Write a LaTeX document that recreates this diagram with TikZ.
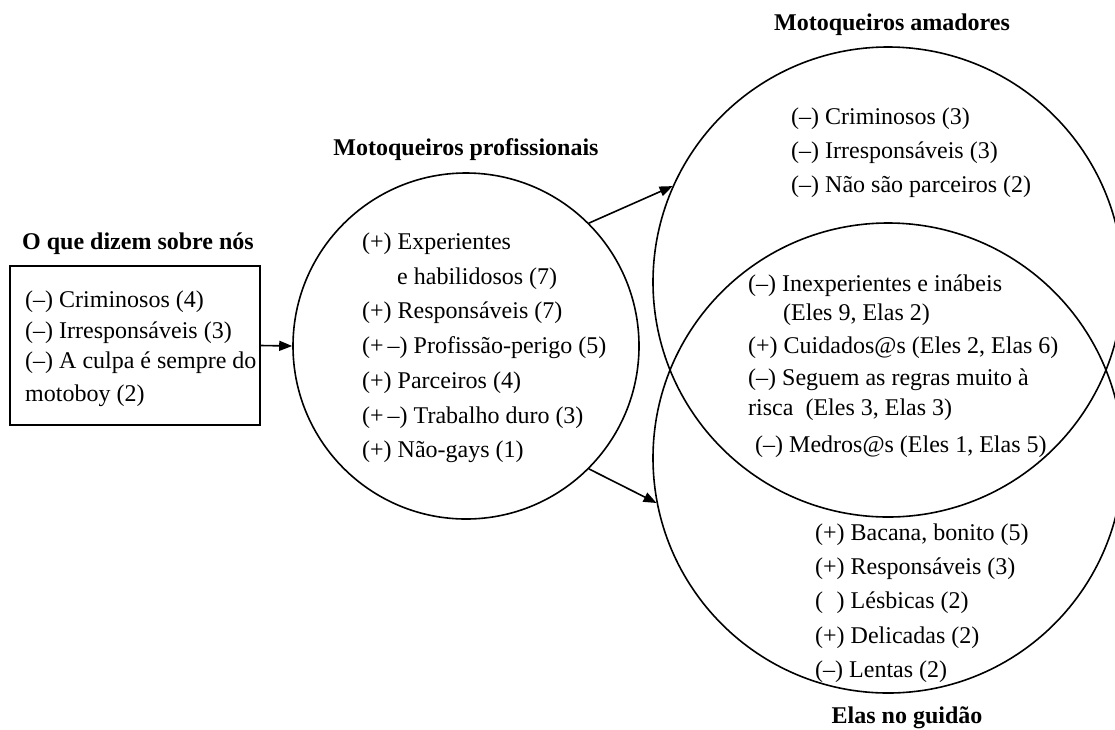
\documentclass[tikz,border=0pt]{standalone}
\usepackage{fontspec}
\setmainfont{Liberation Serif}
\usetikzlibrary{arrows.meta}
\tikzset{
  txt/.style={anchor=base west, inner sep=0pt, font=\fontsize{24}{29}\selectfont},
  ttl/.style={anchor=base, inner sep=0pt, font=\fontsize{24}{29}\selectfont\bfseries},
  ring/.style={draw, circle, line width=1.6pt, inner sep=0pt},
  arr/.style={line width=1.6pt, -{Triangle[length=13pt,width=10pt]}},
}
\begin{document}
\begin{tikzpicture}[x=1pt,y=-1pt]
\useasboundingbox (0,0) rectangle (1115,729);
\clip (0,0) rectangle (1115,729);
% shapes
\node[draw, line width=1.6pt, minimum width=250pt, minimum height=159pt, inner sep=0pt] (box) at (135,345.5) {};
\node[ring, minimum size=346pt] (mid) at (466,346) {};
\node[ring, minimum size=470pt] (amad) at (888,282) {};
\node[ring, minimum size=470pt] (elas) at (888,458) {};
% titles
\node[ttl] (t1) at (138,249) {O que dizem sobre nós};
\node[ttl] (t2) at (466,155) {Motoqueiros profissionais};
\node[ttl] (t3) at (892,30) {Motoqueiros amadores};
\node[ttl] (t4) at (907,723) {Elas no guidão};
% box text
\node[txt] (b1) at (25,307) {(–) Criminosos (4)};
\node[txt] (b2) at (25,338) {(–) Irresponsáveis (3)};
\node[txt] (b3) at (25,368) {(–) A culpa é sempre do};
\node[txt] (b4) at (25,401) {motoboy (2)};
% middle circle text
\node[txt] (m1) at (362,249) {(+) Experientes};
\node[txt] (m2) at (397,284) {e habilidosos (7)};
\node[txt] (m3) at (362,318) {(+) Responsáveis (7)};
\node[txt] (m4) at (362,353) {(+\,–) Profissão-perigo (5)};
\node[txt] (m5) at (362,388) {(+) Parceiros (4)};
\node[txt] (m6) at (362,423) {(+\,–) Trabalho duro (3)};
\node[txt] (m7) at (362,457) {(+) Não-gays (1)};
% top circle text
\node[txt] (a1) at (791,124) {(–) Criminosos (3)};
\node[txt] (a2) at (791,158) {(–) Irresponsáveis (3)};
\node[txt] (a3) at (791,192) {(–) Não são parceiros (2)};
% intersection text
\node[txt] (i1) at (748,291) {(–) Inexperientes e inábeis};
\node[txt] (i2) at (783,320) {(Eles 9, Elas 2)};
\node[txt] (i3) at (748,353) {(+) Cuidados@s (Eles 2, Elas 6)};
\node[txt] (i4) at (748,385) {(–) Seguem as regras muito à};
\node[txt] (i5) at (748,415) {risca\ \ (Eles 3, Elas 3)};
\node[txt] (i6) at (755,452) {(–) Medros@s (Eles 1, Elas 5)};
% bottom circle text
\node[txt] (e1) at (815,540) {(+) Bacana, bonito (5)};
\node[txt] (e2) at (815,574) {(+) Responsáveis (3)};
\node[txt] (e3) at (815,608) {(\hphantom{+}) Lésbicas (2)};
\node[txt] (e4) at (815,643) {(+) Delicadas (2)};
\node[txt] (e5) at (815,677) {(–) Lentas (2)};
% connectors
\draw[arr] (box.east) -- (mid.west);
\draw[arr] (mid.45) -- (amad.156.6);
\draw[arr] (mid.-45) -- (elas.191.9);
\end{tikzpicture}
\end{document}
